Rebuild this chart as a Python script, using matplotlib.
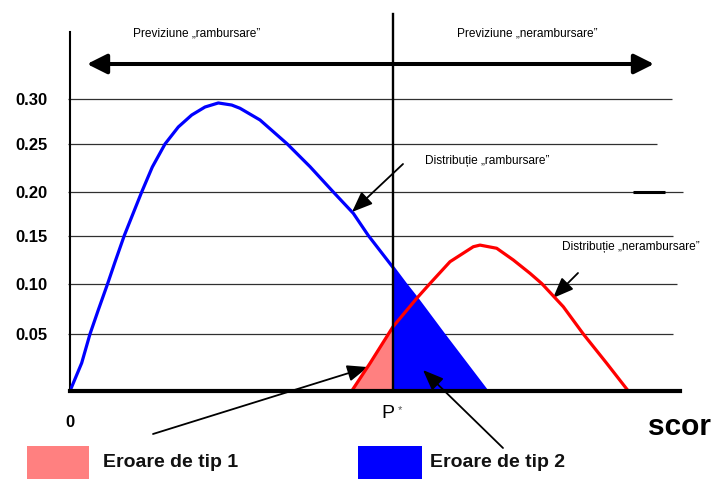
import numpy as np
import matplotlib
matplotlib.use("Agg")
import matplotlib.pyplot as plt
from matplotlib.patches import Rectangle

plt.rcParams['font.family'] = ['Liberation Sans', 'DejaVu Sans']

# ---------------- data ----------------
blue_x = [0, 1.17, 2.0, 2.83, 3.77, 4.5, 5.43, 6.17, 7.17, 8.23, 9.5, 10.83,
          12.17, 13.5, 14.83, 16.17, 17.0, 19.0, 20.33, 21.73, 24.0, 26.33,
          28.33, 29.83, 32.3, 33.5, 34.67, 37.33, 41.67]
blue_y = [0, 0.0246, 0.05, 0.0738, 0.10, 0.1224, 0.15, 0.1713, 0.20, 0.226,
          0.25, 0.2689, 0.2822, 0.2911, 0.2956, 0.2933, 0.2897, 0.2767,
          0.2637, 0.25, 0.2264, 0.20, 0.1755, 0.15, 0.1167, 0.10, 0.0853,
          0.05, 0]
red_x = [28.17, 30.0, 32.3, 34.67, 36.0, 38.0, 40.33, 41.0, 42.67, 44.33,
         46.0, 47.17, 49.33, 51.33, 53.67, 55.83]
red_y = [0, 0.0243, 0.0572, 0.0853, 0.10, 0.1227, 0.1383, 0.140, 0.1367,
         0.1245, 0.1106, 0.10, 0.077, 0.05, 0.0243, 0]
p_star = 32.3
y_ticks = [0.05, 0.10, 0.15, 0.20, 0.25, 0.30]
y_tick_labels = ['0.05', '0.10', '0.15', '0.20', '0.25', '0.30']
x_labels = ['0', 'P', '*']
axis_title = 'scor'
legend_labels = ['Eroare de tip 1', 'Eroare de tip 2']
pred_labels = ['Previziune \u201erambursare\u201d', 'Previziune \u201enerambursare\u201d']
dist_labels = ['Distribu\u021bie \u201erambursare\u201d', 'Distribu\u021bie \u201enerambursare\u201d']

# ---------------- layout ----------------
W, H = 712, 479
BASE, TOP = 391, 32          # pixel rows of the x axis and of the y axis top


def fx(px):
    return px / W


def fy(py):
    return 1 - py / H


# the reference's value axis is unevenly spaced: reproduce its grid spacing
scale_vals = [-0.2, 0, 0.05, 0.10, 0.15, 0.20, 0.25, 0.30, 0.50]
scale_pos = [-228, 0, 57, 107.5, 155.5, 199, 247, 292, 472]


def fwd(v):
    return np.interp(v, scale_vals, scale_pos)


def inv(p):
    return np.interp(p, scale_pos, scale_vals)


fig = plt.figure(figsize=(W / 100, H / 100), dpi=100)
ax = fig.add_axes([fx(70), fy(BASE), (680 - 70) / W, (BASE - TOP) / H])
ax.set_yscale('function', functions=(fwd, inv))
ax.set_xlim(0, 61)
ax.set_ylim(0, inv(BASE - TOP))
for s in ['top', 'right']:
    ax.spines[s].set_visible(False)
ax.spines['left'].set_linewidth(1.5)
ax.spines['bottom'].set_linewidth(3.0)
ax.spines['bottom'].set_zorder(6)
ax.set_xticks([])
ax.set_yticks(y_ticks, labels=y_tick_labels)
ax.yaxis.set_minor_locator(matplotlib.ticker.NullLocator())
ax.tick_params(axis='y', length=0, pad=16, labelsize=12)
for t in ax.get_yticklabels():
    t.set_fontweight('bold')

# horizontal grid lines with uneven right ends
grid_ends = [60.3, 60.7, 60.3, 61.3, 58.7, 60.2]
ax.hlines(y_ticks, -0.2, grid_ends, colors='#303030', lw=0.9, zorder=1,
          clip_on=False)
ax.hlines(0.20, 56.3, 59.5, colors='black', lw=2.2, zorder=1)

bx, by = np.array(blue_x), np.array(blue_y)
rx, ry = np.array(red_x), np.array(red_y)

# error areas
ax.fill_between(bx, by, where=bx >= p_star, color='#0000FF', lw=0, zorder=2,
                interpolate=True)
ax.fill_between(rx, ry, where=rx <= p_star, color='#FF8080', lw=0, zorder=2,
                interpolate=True)

# curves
ax.plot(bx, by, color='#0000FF', lw=2.3, zorder=3, solid_joinstyle='round',
        solid_capstyle='round')
ax.plot(rx, ry, color='#FF0000', lw=2.3, zorder=4, solid_joinstyle='round',
        solid_capstyle='round')

# cut-off line
ax.axvline(p_star, ymin=0, ymax=(BASE - 14) / (BASE - TOP), color='black',
           lw=1.7, zorder=5, clip_on=False)

# double arrow
ax.annotate('', xy=(654, H - 64), xycoords='figure pixels',
            xytext=(87, H - 64), textcoords='figure pixels',
            arrowprops=dict(arrowstyle='<|-|>,head_length=12,head_width=6',
                            mutation_scale=1, lw=2.9, color='black',
                            shrinkA=0, shrinkB=0),
            annotation_clip=False)

small = dict(ha='center', va='center', fontsize=8.6)
fig.text(fx(196.5), fy(33), pred_labels[0], **small)
fig.text(fx(527.5), fy(33), pred_labels[1], **small)
fig.text(fx(487.5), fy(161), dist_labels[0], **small)
fig.text(fx(631), fy(247), dist_labels[1], **small)

# annotation arrows: tail in figure pixels, tip on the marks (data)
arrow_kw = dict(arrowstyle='-|>,head_length=1.05,head_width=0.42',
                mutation_scale=12, lw=1.3, color='black', shrinkA=0, shrinkB=0)
for tail, tip in [((403, 164), (28.2, 0.177)),
                  ((578, 273), (48.3, 0.0856)),
                  ((153, 434), (29.8, 0.021)),
                  ((503, 448), (35.3, 0.0184))]:
    ax.annotate('', xy=tip, xytext=(tail[0], H - tail[1]),
                textcoords='figure pixels', arrowprops=arrow_kw,
                annotation_clip=False)

# x labels
fig.text(fx(69.5), fy(427), x_labels[0], ha='center', va='baseline',
         fontsize=12, fontweight='bold')
fig.text(fx(387.5), fy(418), x_labels[1], ha='center', va='baseline',
         fontsize=14)
fig.text(fx(400), fy(413), x_labels[2], ha='center', va='baseline',
         fontsize=8, color='#555555')
fig.text(fx(648), fy(435), axis_title, ha='left', va='baseline', fontsize=21.5,
         fontweight='bold')

# legend
fig.add_artist(Rectangle((fx(27), 0), 62 / W, (H - 446) / H,
                         transform=fig.transFigure, color='#FF8080', lw=0))
fig.add_artist(Rectangle((fx(358), 0), 64 / W, (H - 446) / H,
                         transform=fig.transFigure, color='#0000FF', lw=0))
fig.text(fx(103), fy(467), legend_labels[0], ha='left', va='baseline',
         fontsize=14, fontweight='bold', color='#111111')
fig.text(fx(430), fy(467), legend_labels[1], ha='left', va='baseline',
         fontsize=14, fontweight='bold', color='#111111')

fig.savefig('out.png', dpi=100)
